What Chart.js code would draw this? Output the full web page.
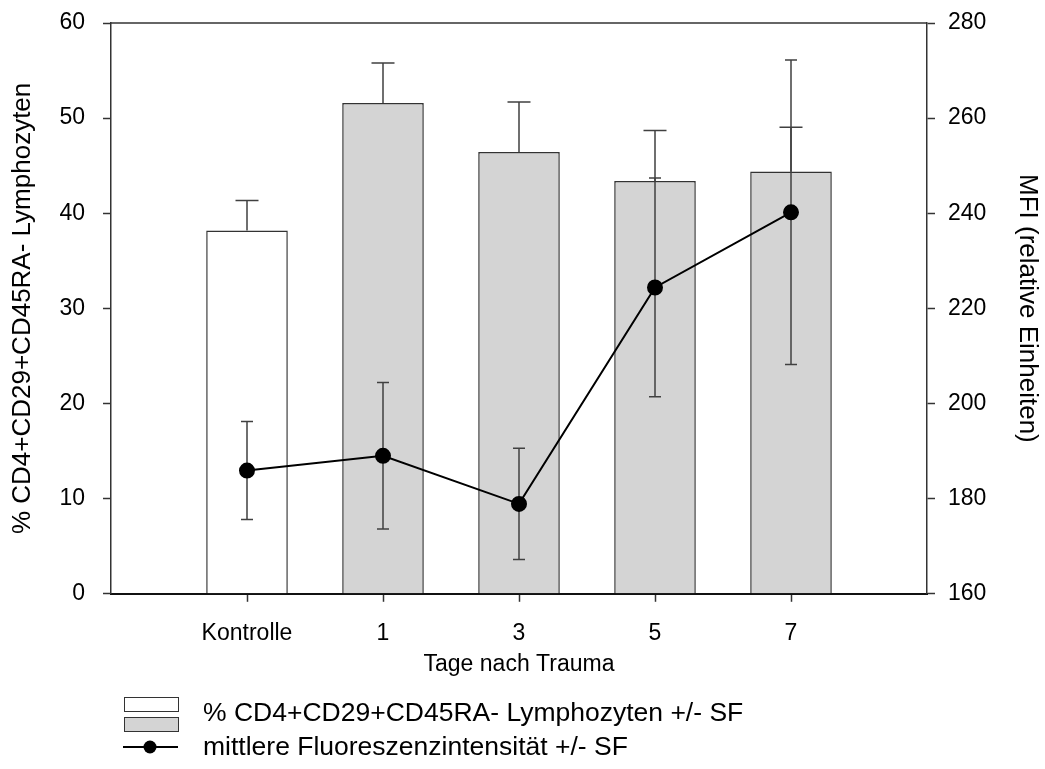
<!DOCTYPE html>
<html>
<head>
<meta charset="utf-8">
<script src="https://cdn.jsdelivr.net/npm/chart.js@4.4.0/dist/chart.umd.min.js"></script>
<style>
  html, body { margin: 0; padding: 0; background: #fff; }
  #wrap { width: 1045px; height: 769px; }
</style>
</head>
<body>
<div id="wrap"><canvas id="grafik"></canvas></div>
<script>
// Kategorien (leere Plätze links und rechts als Rand)
const kategorien = ['', 'Kontrolle', '1', '3', '5', '7', ''];
// % CD4+CD29+CD45RA- Lymphozyten (linke Achse)
const anteil = [null, 38.2, 51.6, 46.45, 43.4, 44.4, null];
const anteilSF = [null, 3.15, 4.2, 5.25, 5.3, 4.65, null];
// mittlere Fluoreszenzintensität (rechte Achse)
const mfi = [null, 185.9, 189.0, 178.9, 224.4, 240.2, null];
const mfiSF = [null, 10.3, 15.4, 11.7, 23.0, 32.0, null];
// Achsenbeschriftung
const linksTicks = [0, 10, 20, 30, 40, 50, 60];
const rechtsTicks = [160, 180, 200, 220, 240, 260, 280];

const familie = 'Arial, "Liberation Sans", sans-serif';
const tickSchrift = { family: familie, size: 23 };
const titelSchrift = { family: familie, size: 23 };
const achsenTitel = { family: familie, size: 26 };
const legendenGroesse = 26.5;

const fehlerbalken = {
    id: 'fehlerbalken',
    beforeDatasetDraw(chart, args) {
        if (args.index !== 1) return;
        const ctx = chart.ctx;
        const x = chart.scales.x;
        const yl = chart.scales.y;
        const yr = chart.scales.y2;
        ctx.save();
        ctx.strokeStyle = '#404040';
        ctx.lineWidth = 1.5;
        // Balkenfehler nur nach oben
        anteil.forEach((v, i) => {
            if (v == null) return;
            const px = x.getPixelForValue(i);
            const y0 = yl.getPixelForValue(v);
            const y1 = yl.getPixelForValue(v + anteilSF[i]);
            ctx.beginPath();
            ctx.moveTo(px, y0); ctx.lineTo(px, y1);
            ctx.moveTo(px - 11.5, y1); ctx.lineTo(px + 11.5, y1);
            ctx.stroke();
        });
        // MFI Fehler +/-
        mfi.forEach((v, i) => {
            if (v == null) return;
            const px = x.getPixelForValue(i);
            const yo = yr.getPixelForValue(v + mfiSF[i]);
            const yu = yr.getPixelForValue(v - mfiSF[i]);
            ctx.beginPath();
            ctx.moveTo(px, yo); ctx.lineTo(px, yu);
            ctx.moveTo(px - 6, yo); ctx.lineTo(px + 6, yo);
            ctx.moveTo(px - 6, yu); ctx.lineTo(px + 6, yu);
            ctx.stroke();
        });
        ctx.restore();
    }
};

const rahmenUndLegende = {
    id: 'rahmenUndLegende',
    afterDraw(chart) {
        const ctx = chart.ctx;
        const a = chart.chartArea;
        ctx.save();
        // obere Rahmenlinie
        ctx.strokeStyle = '#333';
        ctx.lineWidth = 1.5;
        ctx.beginPath();
        ctx.moveTo(a.left, a.top);
        ctx.lineTo(a.right, a.top);
        ctx.stroke();

        // Legende
        ctx.lineWidth = 1;
        ctx.fillStyle = '#ffffff';
        ctx.fillRect(124.5, 697.5, 54, 14);
        ctx.strokeRect(124.5, 697.5, 54, 14);
        ctx.fillStyle = '#d4d4d4';
        ctx.fillRect(124.5, 717.5, 54, 14);
        ctx.strokeRect(124.5, 717.5, 54, 14);

        ctx.strokeStyle = '#000';
        ctx.lineWidth = 2;
        ctx.beginPath();
        ctx.moveTo(123, 747);
        ctx.lineTo(178, 747);
        ctx.stroke();
        ctx.fillStyle = '#000';
        ctx.beginPath();
        ctx.arc(150, 747, 6.5, 0, Math.PI * 2);
        ctx.fill();

        ctx.font = legendenGroesse + 'px ' + familie;
        ctx.textBaseline = 'middle';
        ctx.textAlign = 'left';
        ctx.fillStyle = '#000';
        ctx.fillText('% CD4+CD29+CD45RA- Lymphozyten +/- SF', 203, 714);
        ctx.fillText('mittlere Fluoreszenzintensität +/- SF', 203, 748);
        ctx.restore();
    }
};

const canvas = document.getElementById('grafik');

new Chart(canvas, {
    type: 'bar',
    data: {
        labels: kategorien,
        datasets: [
            {
                label: '% CD4+CD29+CD45RA- Lymphozyten +/- SF',
                data: anteil,
                yAxisID: 'y',
                order: 2,
                backgroundColor: c => c.dataIndex === 1 ? '#ffffff' : '#d4d4d4',
                borderColor: '#333',
                borderWidth: 1.5,
                categoryPercentage: 0.6,
                barPercentage: 1
            },
            {
                type: 'line',
                label: 'mittlere Fluoreszenzintensität +/- SF',
                data: mfi,
                yAxisID: 'y2',
                order: 1,
                borderColor: '#000',
                borderWidth: 2,
                pointRadius: 7,
                pointBackgroundColor: '#000',
                pointBorderColor: '#000',
                spanGaps: false,
                tension: 0
            }
        ]
    },
    options: {
        responsive: true,
        maintainAspectRatio: false,
        animation: false,
        layout: { padding: { top: 23, bottom: 83, left: 0, right: 0 } },
        plugins: {
            legend: { display: false },
            tooltip: { enabled: false }
        },
        scales: {
            x: {
                offset: false,
                grid: {
                    display: true,
                    offset: false,
                    drawOnChartArea: false,
                    tickLength: 8,
                    tickWidth: 1.5,
                    tickColor: c => (c.index === 0 || c.index === kategorien.length - 1) ? 'rgba(0,0,0,0)' : '#333'
                },
                border: { display: true, color: '#111', width: 2 },
                ticks: { color: '#000', font: tickSchrift, padding: 18, autoSkip: false, maxRotation: 0 },
                title: { display: true, text: 'Tage nach Trauma', color: '#000', font: titelSchrift, padding: { top: -15, bottom: 8 } }
            },
            y: {
                position: 'left',
                min: 0,
                max: 60,
                afterBuildTicks: s => { s.ticks = linksTicks.map(v => ({ value: v })); },
                ticks: { color: '#000', font: tickSchrift, padding: 18 },
                grid: { drawOnChartArea: false, tickLength: 8, tickWidth: 1.5, tickColor: '#333' },
                border: { color: '#333', width: 1.5 },
                title: { display: true, text: '% CD4+CD29+CD45RA- Lymphozyten', color: '#000', font: achsenTitel, padding: { top: 7, bottom: 0 } },
                afterFit: s => { s.width = 111; s.paddingTop = 0; s.paddingBottom = 0; }
            },
            y2: {
                position: 'right',
                min: 160,
                max: 280,
                afterBuildTicks: s => { s.ticks = rechtsTicks.map(v => ({ value: v })); },
                ticks: { color: '#000', font: tickSchrift, padding: 13 },
                grid: { drawOnChartArea: false, tickLength: 8, tickWidth: 1.5, tickColor: '#333' },
                border: { color: '#333', width: 1.5 },
                title: { display: true, text: 'MFI (relative Einheiten)', color: '#000', font: achsenTitel, padding: { top: 2, bottom: 0 } },
                afterFit: s => { s.width = 118; s.paddingTop = 0; s.paddingBottom = 0; }
            }
        }
    },
    plugins: [fehlerbalken, rahmenUndLegende]
});
</script>
</body>
</html>
